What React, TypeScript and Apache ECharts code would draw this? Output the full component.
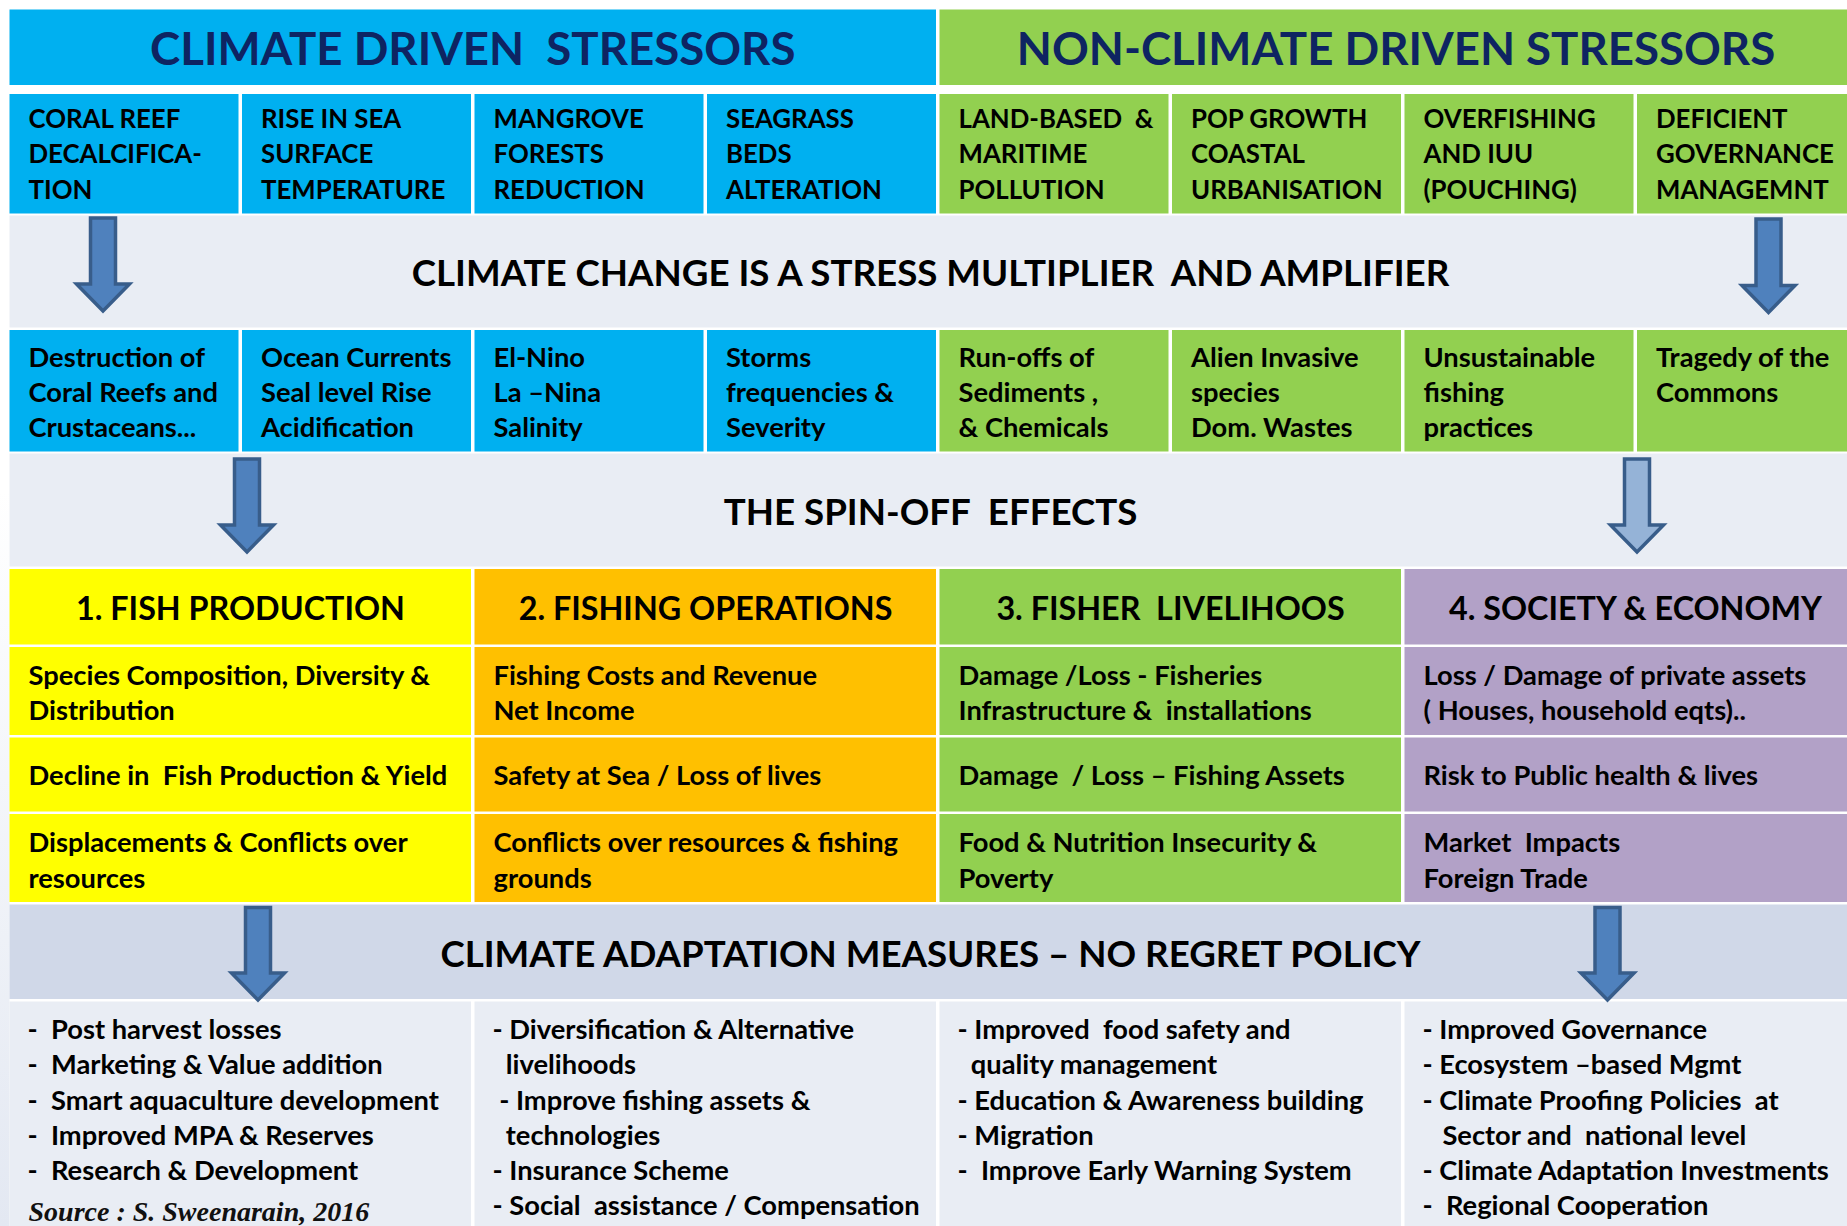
import React, { useEffect, useRef } from "react";
import * as echarts from "echarts";

// ---------- content ----------
const mainHeaders = ["CLIMATE DRIVEN  STRESSORS", "NON-CLIMATE DRIVEN STRESSORS"];
const climateStressors = [
  ["CORAL REEF", "DECALCIFICA-", "TION"],
  ["RISE IN SEA", "SURFACE", "TEMPERATURE"],
  ["MANGROVE", "FORESTS", "REDUCTION"],
  ["SEAGRASS", "BEDS", "ALTERATION"],
];
const nonClimateStressors = [
  ["LAND-BASED  &", "MARITIME", "POLLUTION"],
  ["POP GROWTH", "COASTAL", "URBANISATION"],
  ["OVERFISHING", "AND IUU", "(POUCHING)"],
  ["DEFICIENT", "GOVERNANCE", "MANAGEMNT"],
];
const climateImpacts = [
  ["Destruction of", "Coral Reefs and", "Crustaceans..."],
  ["Ocean Currents", "Seal level Rise", "Acidification"],
  ["El-Nino", "La \u2013Nina", "Salinity"],
  ["Storms", "frequencies &", "Severity"],
];
const nonClimateImpacts = [
  ["Run-offs of", "Sediments ,", "& Chemicals"],
  ["Alien Invasive", "species", "Dom. Wastes"],
  ["Unsustainable", "fishing", "practices"],
  ["Tragedy of the", "Commons"],
];
const bandTitles = [
  "CLIMATE CHANGE IS A STRESS MULTIPLIER  AND AMPLIFIER",
  "THE SPIN-OFF  EFFECTS",
  "CLIMATE ADAPTATION MEASURES \u2013 NO REGRET POLICY",
];
const effectHeaders = [
  "1. FISH PRODUCTION",
  "2. FISHING OPERATIONS",
  "3. FISHER  LIVELIHOOS",
  "4. SOCIETY & ECONOMY",
];
const effectRow1 = [
  ["Species Composition, Diversity &", "Distribution"],
  ["Fishing Costs and Revenue", "Net Income"],
  ["Damage /Loss - Fisheries", "Infrastructure &  installations"],
  ["Loss / Damage of private assets", "( Houses, household eqts).."],
];
const effectRow2 = [
  ["Decline in  Fish Production & Yield"],
  ["Safety at Sea / Loss of lives"],
  ["Damage  / Loss \u2013 Fishing Assets"],
  ["Risk to Public health & lives"],
];
const effectRow3 = [
  ["Displacements & Conflicts over", "resources"],
  ["Conflicts over resources & fishing", "grounds"],
  ["Food & Nutrition Insecurity &", "Poverty"],
  ["Market  Impacts", "Foreign Trade"],
];
const adaptationMeasures = [
  [
    "-  Post harvest losses",
    "-  Marketing & Value addition",
    "-  Smart aquaculture development",
    "-  Improved MPA & Reserves",
    "-  Research & Development",
  ],
  [
    "- Diversification & Alternative",
    "  livelihoods",
    " - Improve fishing assets &",
    "  technologies",
    "- Insurance Scheme",
    "- Social  assistance / Compensation",
  ],
  [
    "- Improved  food safety and",
    "  quality management",
    "- Education & Awareness building",
    "- Migration",
    "-  Improve Early Warning System",
  ],
  [
    "- Improved Governance",
    "- Ecosystem \u2013based Mgmt",
    "- Climate Proofing Policies  at",
    "   Sector and  national level",
    "- Climate Adaptation Investments",
    "-  Regional Cooperation",
  ],
];
const sourceNote = "Source : S. Sweenarain, 2016";

// ---------- style / layout ----------
const W = 1847;
const H = 1226;
const X0 = 9.5;
const P8 = 232.5;
const P4 = 465;
const GAP = 3.5;
const BLUE = "#00B0F0";
const GREEN = "#92D050";
const NAVY = "#0E2462";
const BAND = "#E9EDF4";
const BAND3 = "#D0D8E8";
const effectColors = ["#FFFF00", "#FFC000", "#92D050", "#B2A1C7"];
const FONT = "Lato";
const SMALL = 27.3;
const CAPS_SMALL = 25.8;
const HEADER = 45.6;
const BAND_FONT = 36.7;
const EFFECT_HEAD = 32.3;

function buildGraphic() {
  const els: any[] = [];
  const rect = (x: number, y: number, w: number, h: number, fill: any) =>
    els.push({ type: "rect", silent: true, shape: { x, y, width: w, height: h }, style: { fill } });
  const text = (
    s: string,
    x: number,
    y: number,
    size: number,
    align: string = "left",
    fill: string = "#000",
    family: string = FONT,
    extra: any = {}
  ) =>
    els.push({
      type: "text",
      silent: true,
      x,
      y,
      style: {
        text: s,
        fill,
        fontSize: size,
        fontFamily: family,
        fontWeight: "bold",
        align,
        verticalAlign: "middle",
        textAlign: align,
        textVerticalAlign: "middle",
        whiteSpace: "pre",
        ...extra,
      },
    });

  // left page strip
  rect(0, 0, X0, H, new echarts.graphic.LinearGradient(0, 0, 0, 1, [
    { offset: 0, color: "#FFFFFF" },
    { offset: 0.4, color: "#FFFFFF" },
    { offset: 1, color: "#E3E8F2" },
  ]));

  // main headers
  const splitX = X0 + 4 * P8 - GAP;
  rect(X0, 9.5, splitX - X0, 75.5, BLUE);
  rect(splitX + GAP, 9.5, W - splitX - GAP, 75.5, GREEN);
  text(mainHeaders[0], (X0 + splitX) / 2, 47.5, HEADER, "center", NAVY);
  text(mainHeaders[1], 1396, 47.5, HEADER, "center", NAVY);

  const eightCols = (top: number, h: number, groups: string[][][], lineYs: number[], size: number) => {
    const all = [...groups[0], ...groups[1]];
    all.forEach((lines, i) => {
      const x = X0 + i * P8;
      const w = i === 7 ? W - x : P8 - GAP;
      rect(x, top, w, h, i < 4 ? BLUE : GREEN);
      lines.forEach((l, k) => text(l, x + 19, lineYs[k], size));
    });
  };

  // row 1: stressors
  eightCols(94, 119.5, [climateStressors, nonClimateStressors], [117.5, 153, 188.5], CAPS_SMALL);
  // band 1
  rect(X0, 215.5, W - X0, 112, BAND);
  text(bandTitles[0], 930.5, 272, BAND_FONT, "center");
  // row 2: impacts
  eightCols(330, 121.5, [climateImpacts, nonClimateImpacts], [356, 391.3, 426.8], SMALL);
  // band 2
  rect(X0, 453.5, W - X0, 113, BAND);
  text(bandTitles[1], 930.5, 511, BAND_FONT, "center");

  // effects
  const fourCols = (top: number, h: number, rows: string[][], lineYs: number[], header = false) => {
    rows.forEach((lines, i) => {
      const x = X0 + i * P4;
      const w = i === 3 ? W - x : P4 - GAP;
      rect(x, top, w, h, effectColors[i]);
      if (header) text(lines[0], x + 231, lineYs[0], EFFECT_HEAD, "center");
      else lines.forEach((l, k) => text(l, x + 19, lineYs[k], SMALL));
    });
  };
  fourCols(569, 75.5, effectHeaders.map((s) => [s]), [607.5], true);
  fourCols(647, 88, effectRow1, [674, 709]);
  fourCols(737.5, 74, effectRow2, [774.5]);
  fourCols(814, 88, effectRow3, [841.5, 877]);

  // band 3
  rect(X0, 904.5, W - X0, 94.5, BAND3);
  text(bandTitles[2], 930.5, 953, BAND_FONT, "center");

  // adaptation measures
  const bottomYs = [1028, 1063.3, 1099, 1134.5, 1169.5, 1204.5];
  adaptationMeasures.forEach((lines, i) => {
    const x = X0 + i * P4;
    const w = i === 3 ? W - x : P4 - GAP;
    rect(x, 1001.5, w, H - 1001.5, BAND);
    lines.forEach((l, k) => text(l, x + 18, bottomYs[k], SMALL));
  });
  text(sourceNote, X0 + 19, 1211, 28, "left", "#111", "Liberation Serif", { fontStyle: "italic" });

  // arrows
  const arrows = [
    { cx: 103, top: 218, tip: 311, light: false },
    { cx: 1768.5, top: 219, tip: 312.5, light: false },
    { cx: 247, top: 459, tip: 552, light: false },
    { cx: 1637, top: 459, tip: 552, light: true },
    { cx: 258, top: 907.5, tip: 1000, light: false },
    { cx: 1607.5, top: 907.5, tip: 1000, light: false },
  ];
  const sh = 12.5;
  const hh = 26.5;
  const headH = 27;
  arrows.forEach((a) => {
    const hs = a.tip - headH;
    els.push({
      type: "polygon",
      silent: true,
      shape: {
        points: [
          [a.cx - sh, a.top],
          [a.cx + sh, a.top],
          [a.cx + sh, hs],
          [a.cx + hh, hs],
          [a.cx, a.tip],
          [a.cx - hh, hs],
          [a.cx - sh, hs],
        ],
      },
      style: { fill: a.light ? "#95B3D7" : "#4F81BD", stroke: "#385D8A", lineWidth: 3.5, lineJoin: "miter" },
    });
  });
  return els;
}

export default function App() {
  const ref = useRef<HTMLDivElement>(null);
  useEffect(() => {
    if (!ref.current) return;
    const chart = echarts.init(ref.current, null, { renderer: "svg" });
    chart.setOption({
      animation: false,
      backgroundColor: "#FFFFFF",
      graphic: { elements: buildGraphic() },
    });
    return () => chart.dispose();
  }, []);
  return (
    <div
      ref={ref}
      style={{ position: "absolute", left: 0, top: 0, width: W, height: H }}
    />
  );
}
